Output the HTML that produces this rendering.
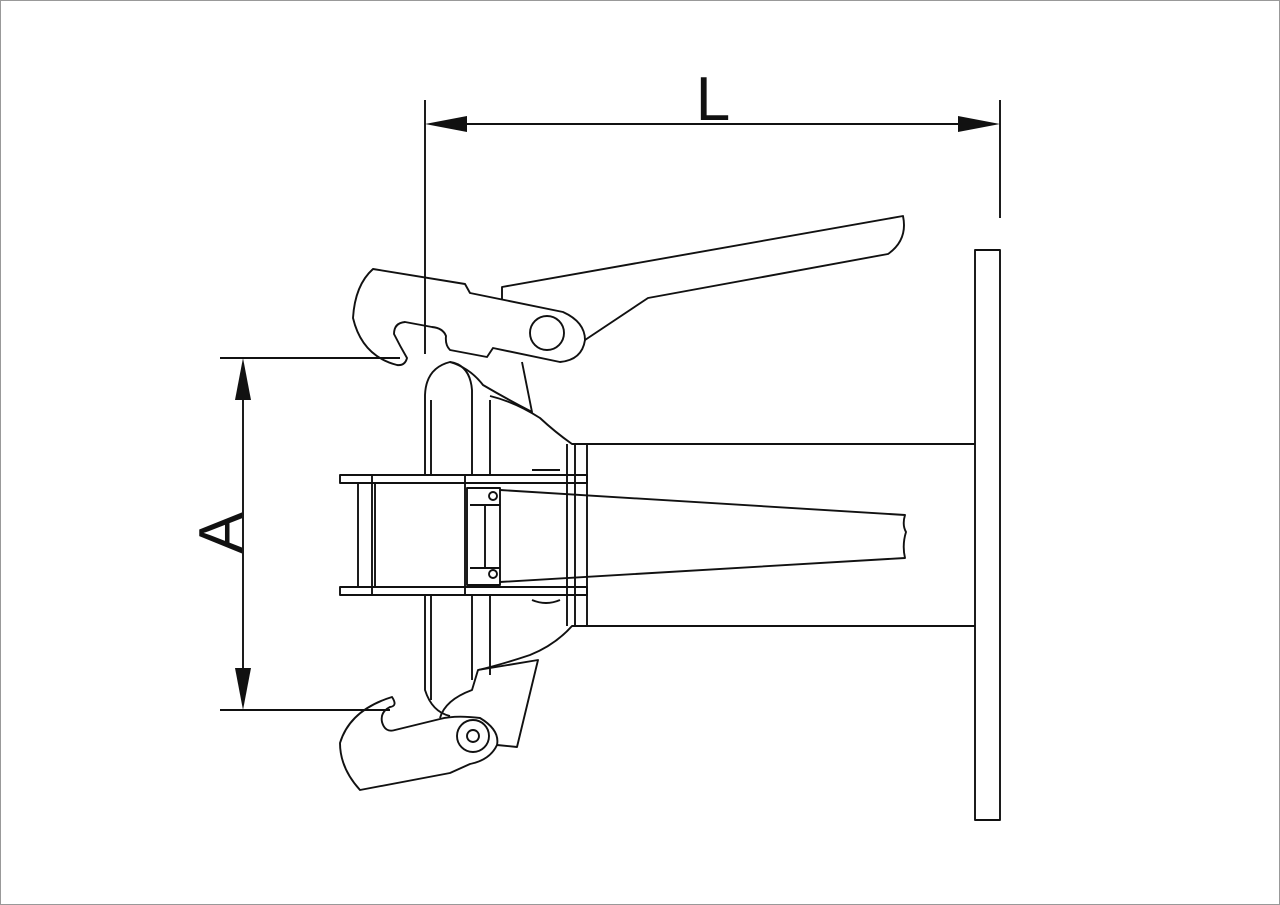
<!DOCTYPE html>
<html><head><style>html,body{margin:0;padding:0;background:#fff}svg{display:block}</style></head><body>
<svg width="1280" height="905" viewBox="0 0 1280 905" xmlns="http://www.w3.org/2000/svg">
<rect x="0.5" y="0.5" width="1279" height="904" fill="#fff" stroke="#999" stroke-width="1"/>
<g fill="none" stroke="#111" stroke-width="1.9" stroke-linejoin="round">
<line x1="425" y1="100" x2="425" y2="354"/>
<line x1="1000" y1="100" x2="1000" y2="218"/>
<line x1="465" y1="124" x2="960" y2="124"/>
<line x1="220" y1="358" x2="400" y2="358"/>
<line x1="220" y1="710" x2="390" y2="710"/>
<line x1="243" y1="400" x2="243" y2="668"/>
<rect x="975" y="250" width="25" height="570"/>
<line x1="587" y1="444" x2="975" y2="444"/>
<line x1="587" y1="626" x2="975" y2="626"/>
<line x1="587" y1="444" x2="587" y2="626"/>
<line x1="575" y1="444" x2="575" y2="626"/>
<line x1="567" y1="444" x2="567" y2="626"/>
<path d="M587 444 L572 444 Q555 432 540 418 Q515 402 490 396"/>
<path d="M587 626 L572 626 Q555 645 530 655 Q500 665 478 670"/>
<path d="M500 490 L905 515 Q902 525 906 532 Q902 545 905 558 L500 582"/>
<rect x="340" y="475" width="247" height="8"/>
<rect x="340" y="587" width="247" height="8"/>
<line x1="358" y1="483" x2="358" y2="587"/>
<line x1="372" y1="475" x2="372" y2="595"/>
<line x1="375" y1="483" x2="375" y2="587"/>
<line x1="465" y1="475" x2="465" y2="595"/>
<rect x="467" y="488" width="33" height="97"/>
<line x1="470" y1="505" x2="500" y2="505"/>
<line x1="470" y1="568" x2="500" y2="568"/>
<line x1="485" y1="505" x2="485" y2="568"/>
<circle cx="493" cy="496" r="4"/>
<circle cx="493" cy="574" r="4"/>
<path d="M532 470 h28 M532 600 q14 6 28 0"/>
<path d="M425 475 V395 Q426 368 450 362 Q470 365 472 390 V475"/>
<line x1="431" y1="400" x2="431" y2="475"/>
<line x1="490" y1="400" x2="490" y2="475"/>
<path d="M425 595 V690 Q432 712 450 716"/>
<line x1="431" y1="595" x2="431" y2="700"/>
<line x1="472" y1="595" x2="472" y2="680"/>
<line x1="490" y1="595" x2="490" y2="675"/>
<path d="M373 269 L465 284 L470 293 L563 312 Q585 322 585 340 Q582 360 560 362 L493 348 L487 357 L450 350 Q445 345 446 336 Q443 328 432 327 L405 322 Q394 323 394 334 Q400 346 407 358 Q405 366 397 365 Q362 356 353 318 Q355 285 373 269 Z"/>
<circle cx="547" cy="333" r="17"/>
<path d="M502 299 V287 L903 216 Q908 240 888 254 L648 298 L585 340"/>
<path d="M522 362 L532 412 Q505 398 483 385 Q470 368 450 362"/>
<path d="M392 697 Q398 706 390 707 Q380 712 382 722 Q385 733 395 730 L440 719 Q455 715 480 718 Q500 730 497 745 Q490 760 470 764 L450 773 L360 790 Q340 768 340 743 Q350 710 392 697 Z"/>
<path d="M440 718 Q445 700 472 690 L478 670 L538 660 L517 747 L497 745"/>
<circle cx="473" cy="736" r="16"/>
<circle cx="473" cy="736" r="6"/>
</g>
<g fill="#111">
<polygon points="425,124 467,116 467,132"/>
<polygon points="1000,124 958,116 958,132"/>
<polygon points="243,358 235,400 251,400"/>
<polygon points="243,710 235,668 251,668"/>
</g>
<text x="713" y="120" font-family="Liberation Sans, sans-serif" font-size="62" text-anchor="middle" fill="#111">L</text>
<text transform="translate(242,533) rotate(-90)" font-family="Liberation Sans, sans-serif" font-size="62" text-anchor="middle" fill="#111">A</text>
</svg>
</body></html>
